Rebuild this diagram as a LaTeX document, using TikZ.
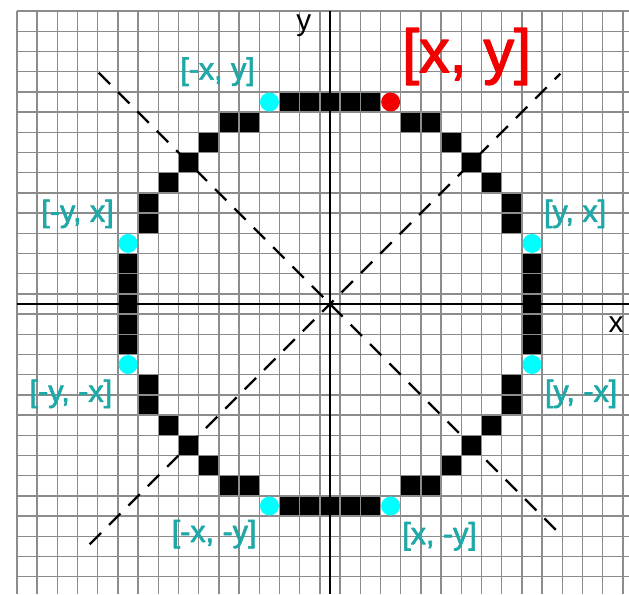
\documentclass[tikz,border=0pt]{standalone}
\usepackage{fontspec}
\setmainfont{Liberation Sans}
\usepackage{xcolor}
\usepackage{tikz}
\usetikzlibrary{positioning}
\definecolor{raster}{HTML}{8C8C8C}
\definecolor{symteal}{HTML}{1FA8A8}
\definecolor{symdot}{HTML}{00FFFF}
\definecolor{mainred}{HTML}{F20000}
% heavier glyphs: fill and stroke the text
\newcommand{\heavytext}[2]{\special{pdf:literal direct #1 w 1 j 2 Tr}#2\special{pdf:literal direct 0 Tr}}
\tikzset{
  gridline/.style={draw=raster, line width=1pt},
  axisline/.style={draw=black, line width=1.5pt},
  octline/.style={draw=black, line width=1.6pt, dash pattern=on 11.3pt off 8pt},
  pixel/.style={fill=black},
  symdotnode/.style={circle, fill=symdot, minimum size=0.47cm, inner sep=0pt},
  maindotnode/.style={circle, fill=mainred, minimum size=0.47cm, inner sep=0pt},
  symlbl/.style={text=symteal, font=\fontsize{21.5}{24}\selectfont, inner sep=0pt},
  mainlbl/.style={text=mainred, font=\fontsize{43}{48}\selectfont, inner sep=0pt},
  axislbl/.style={text=black, font=\fontsize{21}{24}\selectfont, inner sep=0pt},
}

\begin{document}
\begin{tikzpicture}[x=0.5cm, y=0.5cm]
\useasboundingbox[fill=white] (-16.34,-14.36) rectangle (14.80,15.05);

% rasterised circle, one octant mirrored eight ways
\foreach \a/\b in {0/10,1/10,2/10,4/9,5/9,6/8,7/7} {
  \foreach \sx in {1,-1} {
    \foreach \sy in {1,-1} {
      \fill[pixel] (\sx*\a-0.5, \sy*\b-0.5) rectangle ++(1,1);
      \fill[pixel] (\sx*\b-0.5, \sy*\a-0.5) rectangle ++(1,1);
    }
  }
}

% pixel grid
\foreach \i in {-15.5,-14.5,...,14.5} \draw[gridline] (\i,-14.36) -- (\i,14.5);
\foreach \j in {-13.5,-12.5,...,14.5} \draw[gridline] (-15.5,\j) -- (14.8,\j);

% axes
\coordinate (xl) at (-15.5,0);
\coordinate (xr) at (14.8,0);
\coordinate (yt) at (0,14.5);
\coordinate (yb) at (0,-14.36);
\draw[axisline] (xl) -- (xr);
\draw[axisline] (yt) -- (yb);

% octant borders
\coordinate (dnw) at (-11.45,11.45);
\coordinate (dse) at (11.45,-11.45);
\coordinate (dsw) at (-11.9,-11.9);
\coordinate (dne) at (11.4,11.4);
\draw[octline] (dnw) -- (dse);
\draw[octline] (dsw) -- (dne);

% the eight symmetric points
\node[maindotnode] (pxy) at (3,10) {};
\node[symdotnode] (pmxy) at (-3,10) {};
\node[symdotnode] (pyx) at (10,3) {};
\node[symdotnode] (pymx) at (10,-3) {};
\node[symdotnode] (pxmy) at (3,-10) {};
\node[symdotnode] (pmxmy) at (-3,-10) {};
\node[symdotnode] (pmymx) at (-10,-3) {};
\node[symdotnode] (pmyx) at (-10,3) {};

\node[mainlbl] (lxy) at (6.76,12.25) {\heavytext{0.9}{[x, y]}};
\node[symlbl] (lmxy) at (-5.57,11.5) {\heavytext{0.45}{[-x, y]}};
\node[symlbl] (lmyx) at (-12.5,4.46) {\heavytext{0.45}{[-y, x]}};
\node[symlbl] (lyx) at (12.13,4.46) {\heavytext{0.45}{[y, x]}};
\node[symlbl] (lmymx) at (-12.83,-4.45) {\heavytext{0.45}{[-y, -x]}};
\node[symlbl] (lymx) at (12.43,-4.45) {\heavytext{0.45}{[y, -x]}};
\node[symlbl] (lmxmy) at (-5.74,-11.39) {\heavytext{0.45}{[-x, -y]}};
\node[symlbl] (lxmy) at (5.42,-11.5) {\heavytext{0.45}{[x, -y]}};

\node[axislbl] (ylbl) at (-1.3,13.8) {y};
\node[axislbl] (xlbl) at (14.16,-1.01) {x};
\end{tikzpicture}
\end{document}
